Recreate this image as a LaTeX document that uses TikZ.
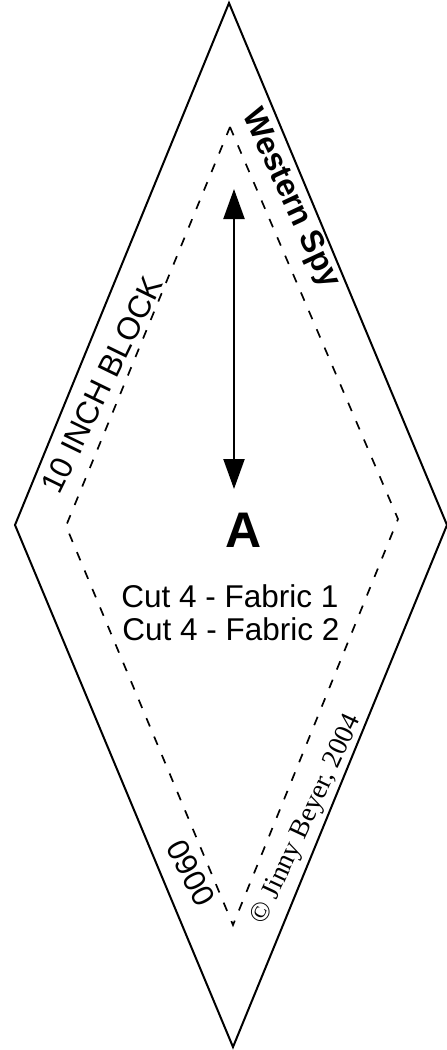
\documentclass[tikz,border=0pt]{standalone}
\usepackage{fontspec}
\setmainfont{Liberation Sans}
\newfontfamily\timesf{Liberation Serif}
\usetikzlibrary{arrows.meta}
\tikzset{
  px/.style={x=1pt,y=-1pt},
  outline/.style={draw=black,line width=2pt,line join=miter},
  seam/.style={draw=black,line width=1.7pt,dash pattern=on 9pt off 11pt},
  grain/.style={draw=black,line width=2.2pt,{Triangle[length=30pt,width=21pt]}-{Triangle[length=30pt,width=21pt]}},
  lab/.style={inner sep=0pt,font=\fontsize{31.5}{34}\selectfont}
}
\begin{document}
\begin{tikzpicture}[px]
\useasboundingbox (0,0) rectangle (447,1050);
\coordinate (T) at (229,3);
\coordinate (R) at (447,525);
\coordinate (B) at (233,1047);
\coordinate (L) at (15,525);
\draw[outline] (T) -- (R) -- (B) -- (L) -- cycle;
\coordinate (t) at (230,127);
\coordinate (r) at (398,519);
\coordinate (b) at (233,925);
\coordinate (l) at (66,526);
\draw[seam] (t) -- (r) -- (b) -- (l) -- cycle;
\coordinate (g1) at (234,189);
\coordinate (g2) at (234,489);
\draw[grain] (g1) -- (g2);
\node[inner sep=0pt,font=\bfseries\fontsize{50}{54}\selectfont] (A) at (243.5,530) {A};
\node[lab] (c1) at (230,596) {Cut 4 - Fabric 1};
\node[lab] (c2) at (231,629) {Cut 4 - Fabric 2};
\node[lab,rotate=-65,font=\bfseries\fontsize{32}{34}\selectfont] (w) at (290,199) {Western Spy};
\node[lab,rotate=64] (k) at (102,385) {10 INCH BLOCK};
\node[inner sep=0pt,rotate=65,font=\timesf\fontsize{27.5}{32}\selectfont] (j) at (307,820) {\textcopyright{} Jinny Beyer, 2004};
\node[lab,rotate=-62,font=\fontsize{31}{34}\selectfont] (n) at (191,873) {0900};
\end{tikzpicture}
\end{document}
